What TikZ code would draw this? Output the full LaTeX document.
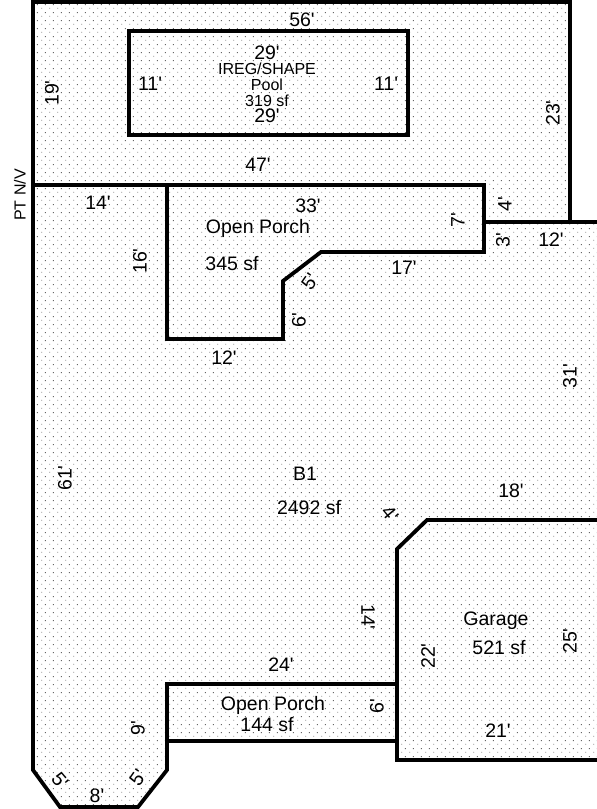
\documentclass[tikz,border=0pt]{standalone}
\usepackage{fontspec}
\setmainfont{Liberation Sans}[Ligatures=TeXOff]
\usepackage{tikz}
\usetikzlibrary{patterns}
\pgfdeclarepatternformonly{lotdots}{\pgfpointorigin}{\pgfqpoint{8pt}{8pt}}{\pgfqpoint{8pt}{8pt}}{
  \pgfpathrectangle{\pgfqpoint{1.5pt}{1.5pt}}{\pgfqpoint{1pt}{1pt}}
  \pgfpathrectangle{\pgfqpoint{5.5pt}{5.5pt}}{\pgfqpoint{1pt}{1pt}}
  \pgfusepath{fill}
}
\tikzset{
  wall/.style={line width=3.8pt,line cap=rect,line join=miter},
  lbl/.style={inner sep=0pt,font=\fontsize{19.5}{20}\selectfont},
  tinylbl/.style={inner sep=0pt,font=\fontsize{16}{16}\selectfont}
}
\begin{document}
\begin{tikzpicture}[x=1pt,y=-1pt]
  \useasboundingbox (0,0) rectangle (597,809);
  % dotted ground
  \fill[pattern=lotdots,pattern color=black!60]
    (33,2) -- (570,2) -- (570,222) -- (597,222) -- (597,760) -- (397,760) -- (397,741) -- (167,741) -- (167,770) -- (138,807) -- (60,807) -- (33,770) -- cycle;
  % walls
  \coordinate (nw) at (33,2);
  \coordinate (ne) at (570,2);
  \coordinate (nj) at (570,222);
  \coordinate (sw) at (33,770);
  \draw[wall] (nj) -- (ne) -- (nw) -- (sw) -- (60,807) -- (138,807) -- (167,770) -- (167,684) -- (397,684);
  \draw[wall] (484,222) -- (597,222);
  \draw[wall] (129,31) rectangle (408,135);
  \draw[wall] (33,185) -- (484,185) -- (484,252) -- (321,252) -- (283,281) -- (283,339) -- (167,339) -- (167,185);
  \draw[wall] (167,741) -- (397,741);
  \draw[wall] (597,520) -- (427,520) -- (397,549) -- (397,760) -- (597,760);
  % text
  \node[tinylbl,rotate=90] (ptnv) at (20,195) {PT N/V};
  \node[lbl] (top) at (302,20) {56'};
  \node[lbl,rotate=90] (leftup) at (52,93) {19'};
  \node[lbl,rotate=90] (rightup) at (553,113) {23'};
  \node[lbl] (pooltop) at (267,53) {29'};
  \node[tinylbl] (ireg) at (267,69) {IREG/SHAPE};
  \node[tinylbl] (pool) at (267,85) {Pool};
  \node[tinylbl] (poolsf) at (267,101) {319 sf};
  \node[lbl] (poolbot) at (267,116) {29'};
  \node[lbl] (poolleft) at (150,84) {11'};
  \node[lbl] (poolright) at (386,84) {11'};
  \node[lbl] (mid) at (258,165) {47'};
  \node[lbl] (w14) at (98,203) {14'};
  \node[lbl] (p33) at (308,206) {33'};
  \node[lbl] (porch) at (258,228) {Open Porch};
  \node[lbl] (porchsf) at (232,264) {345 sf};
  \node[lbl,rotate=90] (p16) at (140,261) {16'};
  \node[lbl,rotate=90] (p7) at (458,220) {7'};
  \node[lbl,rotate=90] (p4) at (505,204) {4'};
  \node[lbl,rotate=90] (p3) at (503,240) {3'};
  \node[lbl] (p12a) at (551,240) {12'};
  \node[lbl] (p17) at (404,268) {17'};
  \node[lbl,rotate=55] (p5) at (310,282) {5'};
  \node[lbl,rotate=90] (p6) at (299,320) {6'};
  \node[lbl] (p12b) at (224,358) {12'};
  \node[lbl,rotate=90] (e31) at (570,376) {31'};
  \node[lbl,rotate=90] (w61) at (65,478) {61'};
  \node[lbl] (b1) at (305,474) {B1};
  \node[lbl] (b1sf) at (309,508) {2492 sf};
  \node[lbl] (g18) at (511,491) {18'};
  \node[lbl,rotate=-50] (g4) at (390,514) {4'};
  \node[lbl,rotate=-90] (g14) at (368,617) {14'};
  \node[lbl] (gar) at (496,621) {Garage};
  \node[lbl] (garsf) at (499,648) {521 sf};
  \node[lbl,rotate=90] (g22) at (428,656) {22'};
  \node[lbl,rotate=90] (g25) at (570,641) {25'};
  \node[lbl] (g21) at (498,731) {21'};
  \node[lbl] (o24) at (281,665) {24'};
  \node[lbl] (op) at (273,705) {Open Porch};
  \node[lbl] (opsf) at (267,725) {144 sf};
  \node[lbl,rotate=90] (o6) at (377,706) {6'};
  \node[lbl,rotate=90] (o9) at (138,728) {9'};
  \node[lbl,rotate=-50] (c5a) at (60,781) {5'};
  \node[lbl] (c8) at (97,796) {8'};
  \node[lbl,rotate=55] (c5b) at (138,778) {5'};
\end{tikzpicture}
\end{document}
